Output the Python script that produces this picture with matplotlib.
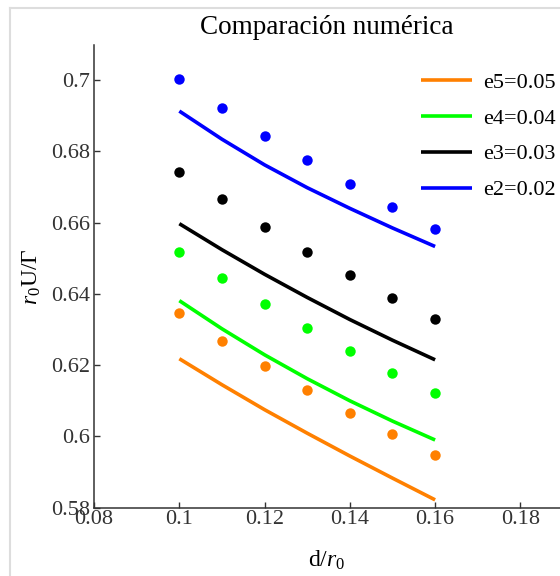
import matplotlib
matplotlib.use("Agg")
import matplotlib.pyplot as plt
from matplotlib.lines import Line2D

plt.rcParams['font.family'] = ['Liberation Serif', 'DejaVu Serif']
plt.rcParams['mathtext.fontset'] = 'custom'
plt.rcParams['mathtext.rm'] = 'Liberation Serif'
plt.rcParams['mathtext.it'] = 'Liberation Serif:italic'

# d/r0 values
d_vals = [0.10, 0.11, 0.12, 0.13, 0.14, 0.15, 0.16]

# numerical points (dots)
pts_e5 = [0.6346, 0.6269, 0.6198, 0.6131, 0.6067, 0.6007, 0.5947]
pts_e4 = [0.6518, 0.6444, 0.6372, 0.6304, 0.6240, 0.6178, 0.6122]
pts_e3 = [0.6741, 0.6665, 0.6588, 0.6517, 0.6452, 0.6388, 0.6329]
pts_e2 = [0.7003, 0.6923, 0.6842, 0.6777, 0.6708, 0.6645, 0.6583]

# model curves
line_e5 = [0.6218, 0.6145, 0.6075, 0.6009, 0.5945, 0.5883, 0.5822]
line_e4 = [0.6381, 0.6302, 0.6229, 0.6162, 0.6100, 0.6043, 0.5990]
line_e3 = [0.6597, 0.6524, 0.6455, 0.6390, 0.6328, 0.6270, 0.6215]
line_e2 = [0.6913, 0.6834, 0.6762, 0.6698, 0.6640, 0.6585, 0.6533]

labels = ["e5=0.05", "e4=0.04", "e3=0.03", "e2=0.02"]
colors = ["#ff8000", "#00ff00", "#000000", "#0000ff"]

fig = plt.figure(figsize=(5.6, 5.76), dpi=100)
ax = fig.add_axes([0.168, 0.1186, 0.832, 0.803])

# notebook-style frame
fig.add_artist(Line2D([10/560, 10/560], [0, 1 - 8/576], transform=fig.transFigure, color="#dddddd", lw=1.5))
fig.add_artist(Line2D([10/560, 1], [1 - 8/576, 1 - 8/576], transform=fig.transFigure, color="#dddddd", lw=1.5))

all_pts = [pts_e5, pts_e4, pts_e3, pts_e2]
all_lines = [line_e5, line_e4, line_e3, line_e2]
handles = []
for p, l, c, lab in zip(all_pts, all_lines, colors, labels):
    h, = ax.plot(d_vals, l, color=c, lw=2.6, solid_capstyle="butt", solid_joinstyle="round", label=lab)
    ax.plot(d_vals, p, "o", color=c, ms=7.5, mec="none")
    handles.append(h)

ax.set_xlim(0.08, 0.1893)
ax.set_ylim(0.58, 0.7098)
ax.set_xticks([0.08, 0.1, 0.12, 0.14, 0.16, 0.18])
ax.set_xticklabels(["0.08", "0.1", "0.12", "0.14", "0.16", "0.18"])
ax.set_yticks([0.58, 0.6, 0.62, 0.64, 0.66, 0.68, 0.7])
ax.set_yticklabels(["0.58", "0.6", "0.62", "0.64", "0.66", "0.68", "0.7"])
ax.tick_params(direction="in", length=4.5, width=1, labelsize=16, colors="#333333", pad=3)
ax.tick_params(axis="x", pad=2)
for s in ["top", "right"]:
    ax.spines[s].set_visible(False)
for s in ["left", "bottom"]:
    ax.spines[s].set_color("#333333")
    ax.spines[s].set_linewidth(1.1)

ax.set_title("Comparación numérica", fontsize=19.5, pad=8)
ax.set_xlabel(r"d/$r_0$", fontsize=17, labelpad=14)
ax.set_ylabel(r"$r_0$U/Γ", fontsize=17, labelpad=6)

ax.legend(handles=handles, loc="upper right", bbox_to_anchor=(1.034, 0.985), frameon=False,
          fontsize=16, handlelength=2.3, handletextpad=0.5, labelspacing=0.69)

fig.savefig("out.png", dpi=100)
